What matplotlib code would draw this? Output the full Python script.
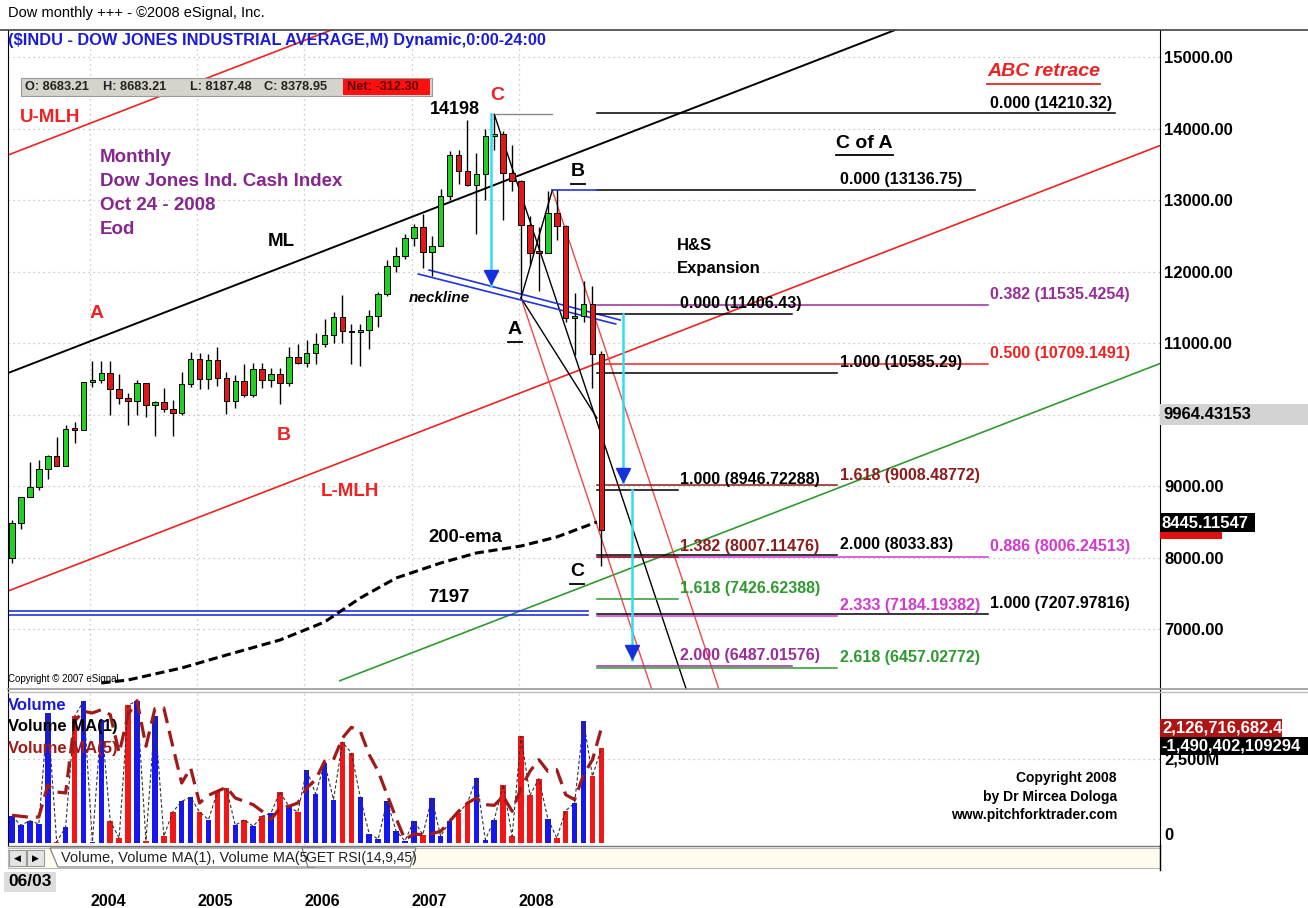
import numpy as np
import matplotlib.pyplot as plt
from matplotlib.lines import Line2D
from matplotlib.patches import Rectangle, Polygon

plt.rcParams['font.family'] = ['Liberation Sans', 'DejaVu Sans']

# ===================== ДАННЫЕ =====================
# месячные свечи Dow, апрель 2003 - октябрь 2008 (индекс бара 0..66)
opens = [7992, 8480, 8850, 8985, 9233, 9415, 9275, 9801, 9782,
         10453, 10488, 10583, 10357, 10226, 10188, 10435, 10140, 10174, 10080, 10027, 10428,
         10783, 10490, 10766, 10504, 10193, 10467, 10275, 10641, 10482, 10569, 10440, 10806,
         10718, 10865, 10993, 11109, 11367, 11168, 11150, 11185, 11381, 11679, 12081, 12222,
         12463, 12621, 12269, 12354, 13063, 13628, 13409, 13212, 13358, 13896, 13930, 13372,
         13265, 12650, 12266, 12263, 12820, 12638, 11350, 11378, 11544, 10851]
highs = [8522, 8850, 9340, 9360, 9430, 9690, 9850, 9900, 10460,
         10750, 10750, 10750, 10570, 10300, 10480, 10440, 10190, 10370, 10200, 10590, 10870,
         10860, 10840, 10950, 10600, 10550, 10700, 10720, 10720, 10650, 10650, 10950, 10990,
         11040, 11140, 11330, 11430, 11670, 11260, 11260, 11460, 11720, 12160, 12340, 12530,
         12660, 12800, 12500, 13160, 13690, 13700, 14120, 13660, 14000, 14198, 13960, 13770,
         13280, 12770, 12620, 13130, 13140, 12650, 11700, 11870, 11800, 10883]
lows = [7930, 8400, 8850, 8950, 9100, 9330, 9300, 9600, 9780,
        10380, 10440, 9990, 10150, 9850, 10000, 9960, 9700, 10030, 9700, 10000, 10380,
        10360, 10360, 10400, 10010, 10090, 10240, 10240, 10370, 10380, 10150, 10400, 10700,
        10660, 10700, 10950, 11000, 11000, 10700, 10680, 10920, 11220, 11660, 11990, 12170,
        12350, 12050, 11940, 12350, 13000, 13220, 13200, 12520, 13000, 13700, 12720, 13130,
        11630, 12090, 11730, 12260, 12440, 11290, 10830, 11300, 10365, 7882]
closes = [8480, 8850, 8985, 9233, 9415, 9275, 9801, 9782, 10453,
          10488, 10583, 10357, 10226, 10188, 10435, 10140, 10174, 10080, 10027, 10428, 10783,
          10490, 10766, 10504, 10193, 10467, 10275, 10641, 10482, 10569, 10440, 10806, 10718,
          10865, 10993, 11109, 11367, 11168, 11150, 11185, 11381, 11679, 12081, 12222, 12463,
          12621, 12269, 12354, 13063, 13628, 13409, 13212, 13358, 13896, 13930, 13372, 13265,
          12650, 12266, 12263, 12820, 12638, 11350, 11378, 11544, 10851, 8379]

volume_m = [795, 527, 664, 565, 3869, 30, 467, 3770, 4217, 30, 3669, 646, 149, 4098, 4235, 68,
            3770, 199, 923, 1241, 1360, 923, 693, 1518, 1637, 527, 693, 497, 795, 893, 1518,
            1092, 914, 2181, 1458, 2381, 1289, 3006, 2678, 1360, 268, 119, 1241, 366, 60, 664,
            247, 1339, 199, 646, 893, 1190, 1934, 98, 693, 1735, 199, 3175, 1420, 1914, 723,
            149, 961, 1190, 3622, 1985, 2827]
volume_ma5 = [824, 795, 765, 774, 1717, 1518, 1488, 3622, 3919, 3869, 3967, 3818, 2678, 3818,
              4235, 2878, 3997, 4018, 2878, 1786, 2232, 1190, 1420, 1539, 1658, 1339, 1241, 1140,
              943, 693, 1042, 1092, 1190, 1637, 1884, 2431, 2479, 3125, 3443, 3324, 2628, 2134,
              1437, 744, 98, 268, 247, 277, 348, 646, 943, 1190, 1339, 1140, 1122, 1390, 943,
              1637, 2134, 2479, 2134, 2181, 1437, 1289, 2033, 2479, 3422]

# 200-ema (бар, цена)
ema_k = [10, 13, 19, 24, 30, 35, 39, 43, 48, 52, 57, 61, 65.5]
ema_v = [6245, 6287, 6455, 6636, 6846, 7098, 7434, 7713, 7923, 8063, 8161, 8287, 8497]

years = ['2004', '2005', '2006', '2007', '2008']
year_first_bar = [9, 21, 33, 45, 57]
price_ticks = [7000, 8000, 9000, 10000, 11000, 12000, 13000, 14000, 15000]

# вилы Эндрюса: медиана (бар, цена), наклон за бар, ширина
pf_k0, pf_p0, pf_slope, pf_gap = -0.45, 10580, 48.3, 3049
# точки ABC коррекции
pt_C = (54, 14198)
pt_A = (57, 11630)
pt_B = (60.5, 13137)
fan_slope = -374
neck1 = [(45.5, 11965), (67.6, 11266)]
neck2 = [(46.7, 12021), (68.1, 11322)]
level_7197 = 7197

# уровни Фибоначчи
abc_ratio = ['0.000', '0.382', '0.500', '0.886', '1.000']
abc_price = ['14210.32', '11535.4254', '10709.1491', '8006.24513', '7207.97816']
coa_ratio = ['0.000', '1.000', '1.618', '2.000', '2.333', '2.618']
coa_price = ['13136.75', '10585.29', '9008.48772', '8033.83', '7184.19382', '6457.02772']
hs_ratio = ['0.000', '1.000', '1.382', '1.618', '2.000']
hs_price = ['11406.43', '8946.72288', '8007.11476', '7426.62388', '6487.01576']

# стрелки проекций (бар, от, до)
arrows = [(53.6, 14198, 11800), (68.4, 11406, 9040), (69.4, 8946, 6560)]

# ===================== ОФОРМЛЕНИЕ =====================
W, H = 1308, 908
RED = '#EE2222'
DRED = '#8E1B1B'
PURP = '#9A2C9A'
MAG = '#D238D2'
GRN = '#2F9A2F'
BLUE = '#2233DD'

fig = plt.figure(figsize=(W / 100, H / 100), dpi=100)
fig.patch.set_facecolor('white')


def ftxt(x, y, s, **kw):
    kw.setdefault('va', 'center')
    kw.setdefault('ha', 'left')
    return fig.text(x / W, 1 - y / H, s, **kw)


def fline(x1, y1, x2, y2, **kw):
    fig.add_artist(Line2D([x1 / W, x2 / W], [1 - y1 / H, 1 - y2 / H], **kw))


def fbox(x, y, w, h, **kw):
    fig.add_artist(Rectangle((x / W, 1 - (y + h) / H), w / W, h / H, **kw))


ax = fig.add_axes([8 / W, 1 - 690 / H, 1152 / W, 660 / H])
axv = fig.add_axes([8 / W, 1 - 845 / H, 1152 / W, 155 / H], sharex=ax)
XL = (-0.45, 128.55)
ax.set_xlim(*XL)
ax.set_ylim(6147, 15378)
axv.set_ylim(-60, 4553)

k = np.arange(len(opens))
o, h, l, c = map(np.array, (opens, highs, lows, closes))
up = c >= o

# сетка
grid_kw = dict(color='#BBBBBB', lw=0.9, ls=(0, (1, 3)), zorder=0)
for p in price_ticks:
    ax.axhline(p, **grid_kw)
for yk in year_first_bar:
    ax.axvline(yk - 0.25, **grid_kw)
    axv.axvline(yk - 0.25, **grid_kw)
axv.axhline(2500, **grid_kw)

# вилы
xx = np.array(XL)
ml = pf_p0 + pf_slope * (xx - pf_k0)
ax.plot(xx, ml, color='black', lw=1.4, zorder=2)
ax.plot(xx, ml + pf_gap, color=RED, lw=1.2, zorder=2)
ax.plot(xx, ml - pf_gap, color=RED, lw=1.2, zorder=2)
xg = np.array([36.7, XL[1]])
ax.plot(xg, pf_p0 + pf_slope * (xg - pf_k0) - 2 * pf_gap, color=GRN, lw=1.2, zorder=2)

# веер от C, A, B
bottom_p = 6150
for (pk, pp), col in [(pt_C, 'black'), (pt_A, '#F04848'), (pt_B, '#F04848')]:
    ke = pk + (bottom_p - pp) / fan_slope
    ax.plot([pk, ke], [pp, bottom_p], color=col, lw=1.0, zorder=2)
ax.plot([pt_A[0], pt_B[0]], [pt_A[1], pt_B[1]], color='black', lw=1.0, zorder=2)
ax.plot([pt_A[0], 65.5], [pt_A[1], 9951], color='black', lw=1.0, zorder=2)
ax.plot([pt_C[0], pt_B[0]], [pt_C[1], pt_C[1]], color='#8A8A8A', lw=1.0, zorder=2)

# линия шеи и уровень 7197
for nl in (neck1, neck2):
    ax.plot([nl[0][0], nl[1][0]], [nl[0][1], nl[1][1]], color=BLUE, lw=1.2, zorder=2)
ax.plot([XL[0], 64.5], [level_7197, level_7197], color=BLUE, lw=1.2, zorder=2)
ax.plot([XL[0], 64.5], [level_7197 + 55, level_7197 + 55], color=BLUE, lw=1.2, zorder=2)

# уровни Фибоначчи
k_start = 65.5
fib_sets = [
    (abc_ratio, abc_price, ['black', PURP, RED, MAG, 'black'], 109.3, 109.5, {0: 123.5}),
    (coa_ratio, coa_price, ['black', 'black', DRED, 'black', MAG, GRN], 92.4, 92.7, {0: 107.8}),
    (hs_ratio, hs_price, ['black', 'black', DRED, GRN, PURP], 74.6, 74.8, {0: 87.3, 4: 87.3}),
]
for ratios, prices, cols, k_end, k_txt, long_end in fib_sets:
    for i, (r, ps, col) in enumerate(zip(ratios, prices, cols)):
        pv = float(ps)
        ax.plot([k_start, long_end.get(i, k_end)], [pv, pv], color=col, lw=1.1, zorder=2)
        ax.annotate(f'{r} ({ps})', (k_txt, pv), xytext=(0, 2), textcoords='offset points',
                    color=col, fontsize=11.5, fontweight='bold', ha='left', va='bottom', zorder=6)
ax.plot([pt_B[0], k_start], [float(coa_price[0])] * 2, color=BLUE, lw=1.2, zorder=2)

# стрелки
for ak, p0, p1 in arrows:
    ax.plot([ak, ak], [p0, p1], color='#30DDF0', lw=1.8, zorder=5)
    ax.plot(ak, p1 + 120, marker='v', color='#1530E0', ms=10, zorder=6)

# 200-ema
ax.plot(ema_k, ema_v, color='black', lw=2.2, ls=(0, (3, 1.5)), zorder=3)

# свечи
ax.vlines(k, l, h, color='black', lw=1.0, zorder=3)
body_lo = np.minimum(o, c)
body_h = np.maximum(np.abs(c - o), 25)
ax.bar(k, body_h, bottom=body_lo, width=0.62, color=np.where(up, '#22D022', '#E01818'),
       edgecolor='black', linewidth=0.7, zorder=4)

# объём
axv.bar(k, volume_m, width=0.62, color=np.where(up, '#1616EE', '#F21616'), zorder=2)
axv.plot(k, volume_m, color='#333333', lw=0.8, ls=(0, (3, 2)), zorder=3)
axv.plot(k, volume_ma5, color='#A01A1A', lw=2.3, ls=(0, (5, 2.5)), zorder=4)

# оси
for a in (ax, axv):
    a.tick_params(axis='x', length=0, labelbottom=False)
    a.yaxis.tick_right()
    a.tick_params(axis='y', length=0, pad=3)
    for s in ('top', 'bottom'):
        a.spines[s].set_visible(False)
    a.spines['left'].set_color('black')
    a.spines['right'].set_color('black')
    a.set_facecolor('none')
ax.set_yticks(price_ticks)
# подпись 10000.00 закрыта плашкой текущего значения
ax.set_yticklabels(['' if v == 10000 else f'{v:.2f}' for v in price_ticks],
                   fontsize=12, fontweight='bold')
axv.set_yticks([0, 2500])
axv.set_yticklabels(['0', '2,500M'], fontsize=12, fontweight='bold')
axv.get_yticklabels()[0].set_va('bottom')

# рамки
fline(0, 30, 1308, 30, color='#444444', lw=1.2)
fline(8, 689, 1308, 689, color='#999999', lw=1.2)
fline(8, 692, 1308, 692, color='#BBBBBB', lw=1.0)
fline(8, 846, 1160, 846, color='#777777', lw=1.0)
fline(1160, 845, 1160, 870, color='black', lw=1.0)

# ===================== ТЕКСТЫ =====================
ftxt(8, 13, 'Dow monthly +++ - \u00a92008 eSignal, Inc.', fontsize=10.5)
ftxt(8, 40, '($INDU - DOW JONES INDUSTRIAL AVERAGE,M) Dynamic,0:00-24:00', fontsize=11.8,
     fontweight='bold', color='#1C1CD8')

# панель OHLC
fbox(21, 78, 411, 18, facecolor='#D6D3CC', edgecolor='#9A9A9A', lw=0.8)
for x, s in [(25, 'O: 8683.21'), (103, 'H: 8683.21'), (190, 'L: 8187.48'), (264, 'C: 8378.95')]:
    ftxt(x, 87.5, s, fontsize=9.2, fontweight='bold', color='#222222')
fbox(343, 79, 87, 16, facecolor='#FF1010', edgecolor='none')
ftxt(347, 87.5, 'Net: -312.30', fontsize=9.2, fontweight='bold', color='#5A0000')

bold = dict(fontweight='bold')
ftxt(20, 118, 'U-MLH', fontsize=13.5, color=RED, **bold)
for i, s in enumerate(['Monthly', 'Dow Jones Ind. Cash Index', 'Oct 24 - 2008', 'Eod']):
    ftxt(100, 157 + 24 * i, s, fontsize=13.5, color='#86258F', **bold)
ftxt(268, 242, 'ML', fontsize=13.5, color='black', **bold)
ftxt(90, 313, 'A', fontsize=14, color=RED, **bold)
ftxt(277, 435, 'B', fontsize=14, color=RED, **bold)
ftxt(321, 492, 'L-MLH', fontsize=13.5, color=RED, **bold)
ftxt(430, 110, '14198', fontsize=13, color='black', **bold)
ftxt(490, 96, 'C', fontsize=14, color=RED, **bold)
ftxt(409, 298, 'neckline', fontsize=11, color='black', fontweight='bold', fontstyle='italic')
ftxt(677, 245, 'H&S', fontsize=12, color='black', **bold)
ftxt(677, 268, 'Expansion', fontsize=12, color='black', **bold)
ftxt(428, 537, '200-ema', fontsize=13.3, color='black', **bold)
ftxt(428, 597, '7197', fontsize=13.5, color='black', **bold)
ftxt(8, 679, 'Copyright \u00a9 2007 eSignal', fontsize=7, color='black')

# подчёркнутые метки
for x, y, s, fs, col, st in [(571, 172, 'B', 14, 'black', 'normal'),
                              (508, 330, 'A', 14, 'black', 'normal'),
                              (570, 572, 'C', 14, 'black', 'normal'),
                              (836, 143, 'C of A', 14, 'black', 'normal'),
                              (987, 72, 'ABC retrace', 14, RED, 'italic')]:
    t = ftxt(x, y, s, fontsize=fs, color=col, fontweight='bold', fontstyle=st)
    fig.draw_without_rendering()
    bb = t.get_window_extent()
    fline(bb.x0, y + 12, bb.x1, y + 12, color=col, lw=1.3)

# подписи объёма
ftxt(8, 705, 'Volume', fontsize=12, color='#1C1CD8', **bold)
ftxt(8, 726, 'Volume MA(1)', fontsize=12, color='black', **bold)
ftxt(8, 748, 'Volume MA(5)', fontsize=12, color='#A01A1A', **bold)
for i, s in enumerate(['Copyright 2008', 'by Dr Mircea Dologa', 'www.pitchforktrader.com']):
    ftxt(1117, 778 + 18.5 * i, s, fontsize=10, ha='right', color='black', **bold)

# правая шкала: плашки текущих значений
fbox(1160, 404, 148, 21, facecolor='#D3D3D3', edgecolor='none')
ftxt(1163, 414.5, '9964.43153', fontsize=12, color='black', **bold)
fbox(1160, 528, 62, 11, facecolor='#E01010', edgecolor='none')
fbox(1160, 513, 95, 19, facecolor='black', edgecolor='none')
ftxt(1162, 523, '8445.11547', fontsize=12, color='white', **bold)
fbox(1160, 719, 122, 18, facecolor='#B01515', edgecolor='none')
ftxt(1162, 728, '2,126,716,682.4', fontsize=12, color='white', **bold)
fbox(1160, 737, 148, 18, facecolor='black', edgecolor='none')
ftxt(1161, 746, '-1,490,402,109294', fontsize=12, color='white', **bold)

# нижняя полоса вкладок
fbox(8, 848, 1152, 20, facecolor='#FFFCEE', edgecolor='#BBBBBB', lw=0.8)
fbox(9, 850, 17, 16, facecolor='#E4E4E4', edgecolor='#999999', lw=0.8)
fbox(27, 850, 17, 16, facecolor='#E4E4E4', edgecolor='#999999', lw=0.8)
ftxt(17.5, 858, '\u25c0', fontsize=6.5, ha='center', color='black')
ftxt(35.5, 858, '\u25b6', fontsize=6.5, ha='center', color='black')
tab1 = [(50 / W, 1 - 848 / H), (58 / W, 1 - 867 / H), (314 / W, 1 - 867 / H), (322 / W, 1 - 848 / H)]
fig.add_artist(Polygon(tab1, closed=True, facecolor='white', edgecolor='#777777', lw=0.8))
tab2 = [(302 / W, 1 - 848 / H), (308 / W, 1 - 867 / H), (410 / W, 1 - 867 / H), (416 / W, 1 - 848 / H)]
fig.add_artist(Polygon(tab2, closed=True, facecolor='white', edgecolor='#777777', lw=0.8))
ftxt(61, 858, 'Volume, Volume MA(1), Volume MA(5', fontsize=10.5, color='#222222')
ftxt(306, 858, 'GET RSI(14,9,45)', fontsize=10, color='#222222')
fbox(4, 872, 52, 20, facecolor='#DDDDDD', edgecolor='none')
ftxt(8, 882, '06/03', fontsize=12.5, color='black', **bold)
for yk, ys in zip(year_first_bar, years):
    xp = 8 + (yk + 1.75 - XL[0]) / (XL[1] - XL[0]) * 1152
    ftxt(xp, 902, ys, fontsize=11.5, ha='center', color='black', **bold)

fig.savefig('out.png', dpi=100)
